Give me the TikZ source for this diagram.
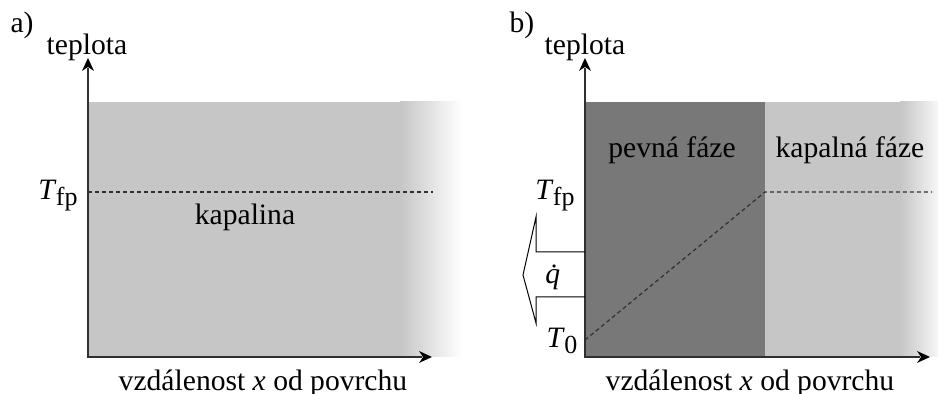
\documentclass[tikz,border=0pt]{standalone}
\usepackage{fontspec}
\setmainfont{Liberation Serif}
\usepackage{tikz}
\definecolor{liquidgray}{HTML}{C6C6C6}
\definecolor{solidgray}{HTML}{787878}
\definecolor{axisgray}{HTML}{303030}
\newcommand{\Tidx}[1]{\textit{T}\kern-0.3pt\raisebox{-0.4ex}{\fontsize{13}{15}\selectfont #1}}

\begin{document}
\begin{tikzpicture}[x=0.5pt,y=0.5pt]
\tikzstyle{every node}+=[inner sep=0pt, anchor=base, font=\fontsize{14.8}{17}\selectfont]
\tikzstyle{axis}=[axisgray, line width=0.8pt]
\tikzstyle{level}=[axisgray, line width=0.6pt, dash pattern=on 2pt off 1.5pt]
\useasboundingbox (0,0) rectangle (938,-394);
% a) kapalina
\fill [liquidgray] (88,-102) rectangle (401,-357);
\shade [left color=liquidgray, right color=white] (400,-102) rectangle (462,-357);
\coordinate (ao) at (88,-357);
\coordinate (ay) at (88,-58);
\coordinate (ax) at (432,-357);
\draw [axis] (88,-68) -- (ao) -- (422,-357);
\fill [black] (ay) -- (82,-71) -- (88,-67) -- (94,-71) -- cycle;
\fill [black] (ax) -- (419,-351) -- (423,-357) -- (419,-363) -- cycle;
\coordinate (afp) at (88,-192);
\coordinate (afpend) at (433,-192);
\draw [level] (afp) -- (afpend);
\node (alabel) at (22,-33) {a)};
\node (ayname) at (87,-55) {teplota};
\node (atfp) at (58,-200) {\Tidx{fp}};
\node (aliquid) at (245,-225) {kapalina};
\node (axname) at (263,-391) {vzdálenost \textit{x} od povrchu};
% b) tuhnuti
\fill [solidgray] (585,-102) rectangle (765,-357);
\fill [liquidgray] (765,-102) rectangle (901,-357);
\shade [left color=liquidgray, right color=liquidgray!15] (900,-102) rectangle (938,-357);
\coordinate (bo) at (585,-357);
\coordinate (by) at (585,-58);
\coordinate (bx) at (930,-357);
\draw [axis] (585,-68) -- (bo) -- (920,-357);
\fill [black] (by) -- (579,-71) -- (585,-67) -- (591,-71) -- cycle;
\fill [black] (bx) -- (917,-351) -- (921,-357) -- (917,-363) -- cycle;
\coordinate (bzero) at (585,-340);
\coordinate (bfront) at (765,-192);
\coordinate (bfpend) at (932,-192);
\draw [level] (bzero) -- (bfront) -- (bfpend);
% tepelny tok
\coordinate (qtop) at (585,-252);
\coordinate (qbot) at (585,-297);
\coordinate (qtip) at (523,-275);
\draw [black, line width=0.5pt] (qtop) -- (536,-252) -- (536,-217) -- (qtip)
  -- (536,-323) -- (536,-297) -- (qbot);
\node (blabel) at (522,-33) {b)};
\node (byname) at (585,-55) {teplota};
\node (btfp) at (555,-200) {\Tidx{fp}};
\node (btzero) at (562,-348) {\Tidx{0}};
\node (bflux) at (557,-284) {\textit{\.{q}}};
\node (bsolid) at (672,-158) {pevná fáze};
\node (bliquid) at (850,-158) {kapalná fáze};
\node (bxname) at (750,-391) {vzdálenost \textit{x} od povrchu};
\end{tikzpicture}
\end{document}
